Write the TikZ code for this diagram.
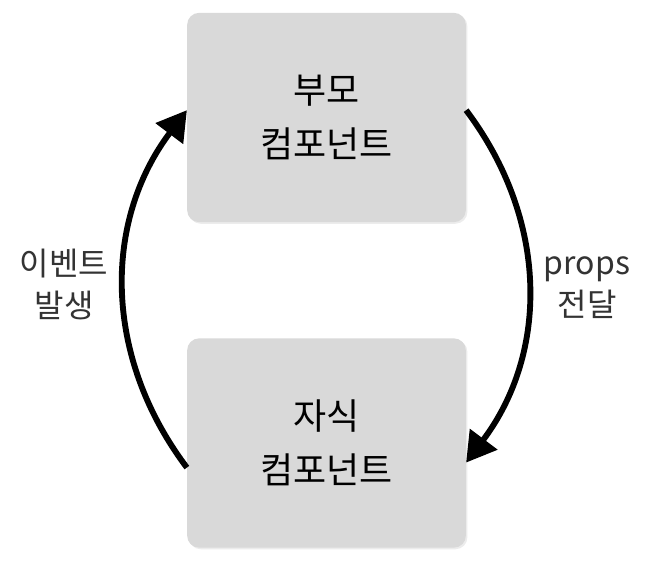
\documentclass[tikz,border=0pt]{standalone}
\usepackage{fontspec}
\setmainfont{Noto Sans CJK KR}
\usetikzlibrary{arrows.meta,shadows}

\tikzset{
  compbox/.style={fill={rgb,255:red,217;green,217;blue,217}, rounded corners=9pt,
    minimum width=209pt, minimum height=157pt, align=center, inner sep=0.75pt,
    font=\fontsize{27}{40.5}\selectfont,
    general shadow={fill={rgb,255:red,236;green,236;blue,236}, shadow xshift=1.2pt, shadow yshift=-1.2pt}},
  sidelabel/.style={align=center, inner sep=0.75pt, text={rgb,255:red,51;green,51;blue,51},
    font=\fontsize{24}{31.5}\selectfont},
  flow/.style={line width=4.4pt, -{Triangle[length=22pt,width=25pt]}}
}

\begin{document}
\begin{tikzpicture}[x=0.75pt,y=0.75pt]
\useasboundingbox (0,0) rectangle (658,582);

% Boxes
\node [compbox] (parent) at (326.5,464.5) {부모\\컴포넌트};
\node [compbox] (child) at (326.5,139) {자식\\컴포넌트};

%Curved Lines
\draw [flow] (child.190) to [out=127, in=233] (parent.177);
\draw [flow] (parent.3) to [out=307, in=53] (child.352);

% Text Node
\node [sidelabel] (event) at (64,298) {이벤트\\발생};
% Text Node
\node [sidelabel] (props) at (587,294) {props\\전달};

\end{tikzpicture}
\end{document}
